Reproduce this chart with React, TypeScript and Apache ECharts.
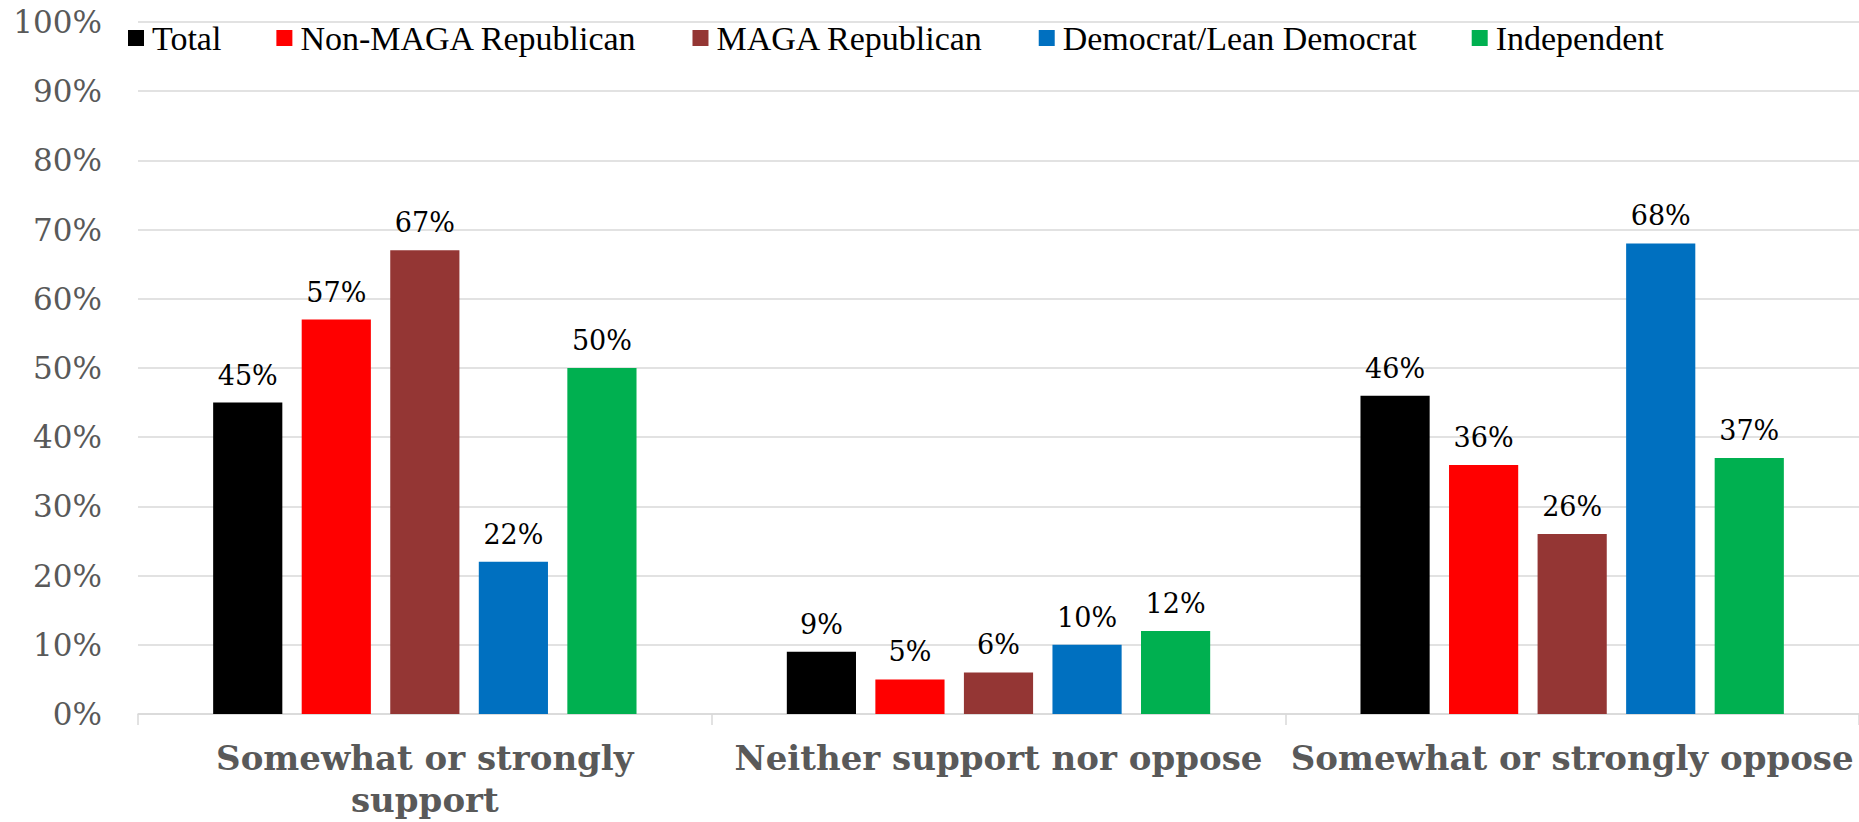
import React, { useEffect, useRef } from "react";
import * as echarts from "echarts";

const categories = [
  "Somewhat or strongly\nsupport",
  "Neither support nor oppose",
  "Somewhat or strongly oppose",
];
const seriesNames = [
  "Total",
  "Non-MAGA Republican",
  "MAGA Republican",
  "Democrat/Lean Democrat",
  "Independent",
];
const totalValues = [45, 9, 46];
const nonMagaValues = [57, 5, 36];
const magaValues = [67, 6, 26];
const democratValues = [22, 10, 68];
const independentValues = [50, 12, 37];
const colors = ["#000000", "#FF0000", "#943634", "#0070C0", "#00B050"];

export default function App() {
  const ref = useRef<HTMLDivElement>(null);
  useEffect(() => {
    if (!ref.current) return;
    const chart = echarts.init(ref.current, null, { renderer: "svg" });
    const allValues = [totalValues, nonMagaValues, magaValues, democratValues, independentValues];
    chart.setOption({
      animation: false,
      backgroundColor: "#ffffff",
      color: colors,
      legend: {
        data: seriesNames,
        left: 123,
        top: 16,
        itemWidth: 16,
        itemHeight: 16,
        itemGap: 55,
        icon: "rect",
        textStyle: {
          fontFamily: "Liberation Serif",
          fontSize: 34,
          lineHeight: 34,
          color: "#000000",
          padding: [0, 0, 0, 3],
        },
      },
      grid: { left: 138, right: 0, top: 22, bottom: 108, containLabel: false },
      xAxis: {
        type: "category",
        data: categories,
        axisLine: { lineStyle: { color: "#d9d9d9", width: 1.5 } },
        axisTick: { show: true, length: 11, lineStyle: { color: "#d9d9d9", width: 1.5 } },
        axisLabel: {
          margin: 23,
          fontFamily: "DejaVu Serif",
          fontWeight: "bold",
          fontSize: 34,
          lineHeight: 42,
          color: "#595959",
          interval: 0,
        },
      },
      yAxis: {
        type: "value",
        min: 0,
        max: 100,
        interval: 10,
        axisLine: { show: false },
        axisTick: { show: false },
        splitLine: { lineStyle: { color: "#d9d9d9", width: 1.5 } },
        axisLabel: {
          margin: 36,
          fontFamily: "DejaVu Serif",
          fontSize: 31,
          color: "#595959",
          formatter: "{value}%",
        },
      },
      series: seriesNames.map((name, i) => ({
        name,
        type: "bar",
        data: allValues[i],
        barGap: "28%",
        barCategoryGap: "26.2%",
        itemStyle: { color: colors[i] },
        label: {
          show: true,
          position: "top",
          distance: 14,
          fontFamily: "DejaVu Serif",
          fontSize: 27,
          color: "#000000",
          formatter: "{c}%",
        },
      })),
    });
    return () => chart.dispose();
  }, []);
  return (
    <div
      ref={ref}
      style={{ position: "fixed", left: 0, top: 0, width: 1859, height: 822 }}
    />
  );
}
